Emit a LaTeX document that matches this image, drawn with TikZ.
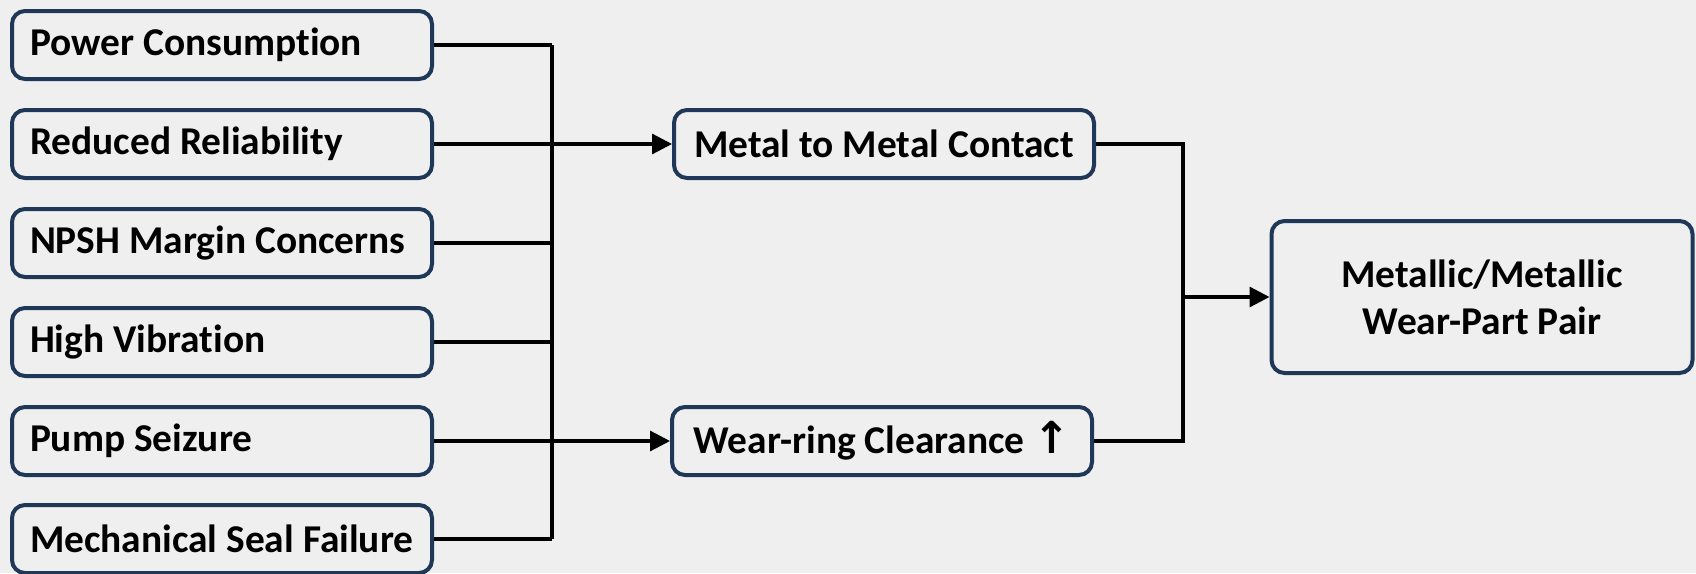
\documentclass[tikz,border=0pt]{standalone}
\usepackage{fontspec}
\setmainfont{Carlito}[Ligatures=NoCommon]
\newfontfamily\arrowfont{DejaVu Sans}
\usetikzlibrary{arrows.meta}
\definecolor{navy}{RGB}{31,56,87}
\definecolor{paper}{RGB}{239,239,239}
\begin{document}
\begin{tikzpicture}[x=0.5pt,y=-0.5pt,
  box/.style={draw=navy, line width=2pt, rounded corners=6.5pt, font=\fontsize{19.7}{23.5}\selectfont\bfseries,
    minimum height=34pt, minimum width=210pt, inner xsep=9pt},
  cause/.style={box, text width=192pt, align=flush left},
  link/.style={line width=1.6pt, -},
  ->/.style={-{Triangle[length=10pt,width=10pt]}}]
\fill[paper] (0,0) rectangle (1696,573);
\useasboundingbox (0,0) rectangle (1696,573);
\node[cause] (1) at (222,45) {Power Consumption};
\node[cause] (2) at (222,144) {Reduced Reliability};
\node[cause] (3) at (222,243) {NPSH Margin Concerns};
\node[cause] (4) at (222,342) {High Vibration};
\node[cause] (5) at (222,441) {Pump Seizure};
\node[cause] (6) at (222,539) {Mechanical Seal Failure};
\node[box] (7) at (884,144) {Metal to Metal Contact};
\node[box] (8) at (882,441) {Wear-ring Clearance {\arrowfont\fontsize{22}{24}\selectfont ↑}};
\node[box, minimum width=210.5pt, minimum height=76pt, align=center] (9) at (1482,297) {Metallic/Metallic\\Wear-Part Pair};
\coordinate (t) at (552,45);
\coordinate (b) at (552,539);
\coordinate (m) at (1183,297);
\path[draw,link] (1) -- (1 -| t);
\path[draw,link] (2) -- (2 -| t);
\path[draw,link] (3) -- (3 -| t);
\path[draw,link] (4) -- (4 -| t);
\path[draw,link] (5) -- (5 -| t);
\path[draw,link] (6) -- (6 -| t);
\path[draw,link] (t) -- (b);
\path[draw,link,->] (2 -| t) -- (7);
\path[draw,link,->] (5 -| t) -- (8);
\path[draw,link] (7) -| (m);
\path[draw,link] (8) -| (m);
\path[draw,link,->] (m) -- (9);
\end{tikzpicture}
\end{document}
